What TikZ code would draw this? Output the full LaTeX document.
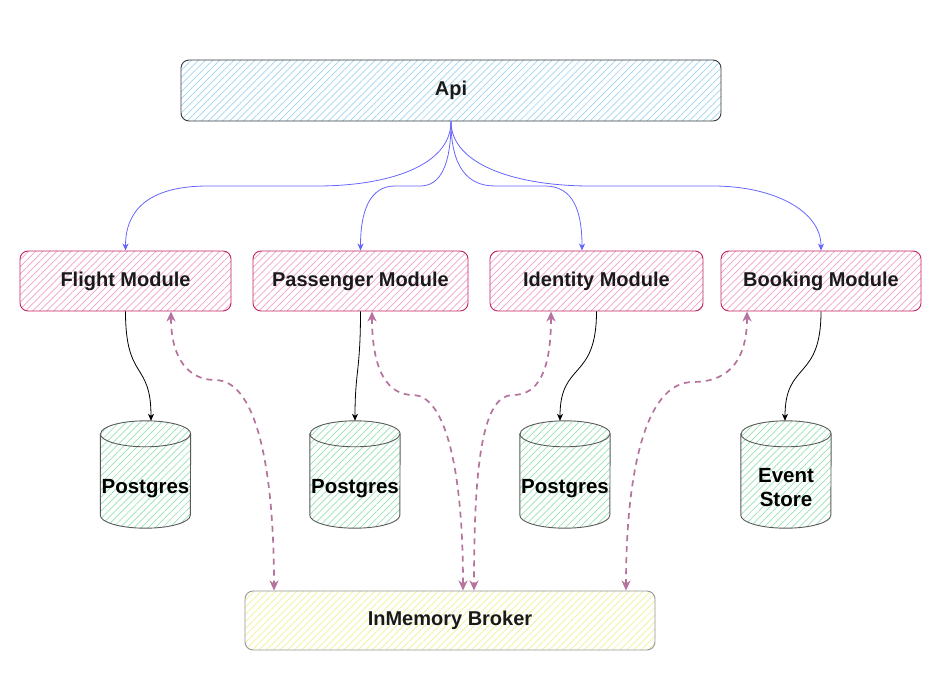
\documentclass[tikz,border=0pt]{standalone}
\usepackage{fontspec}
\setmainfont{Liberation Sans}
\usetikzlibrary{arrows.meta,patterns.meta}

\definecolor{apiline}{RGB}{54,57,61}
\definecolor{apihatch}{RGB}{160,212,240}
\definecolor{modline}{RGB}{194,36,100}
\definecolor{modhatch}{RGB}{242,160,200}
\definecolor{dbline}{RGB}{90,90,90}
\definecolor{dbhatch}{RGB}{150,225,180}
\definecolor{brkline}{RGB}{150,150,150}
\definecolor{brkhatch}{RGB}{240,240,150}
\definecolor{callblue}{RGB}{102,102,255}
\definecolor{busline}{RGB}{181,115,157}
\definecolor{txt}{RGB}{26,26,26}

\tikzset{
  hatch/.style={pattern={Lines[angle=45,distance=5pt,line width=0.7pt]}, pattern color=#1},
  boxbase/.style={rounded corners=8pt, line width=0.9pt, inner sep=0pt,
    font=\fontsize{20}{23}\selectfont\bfseries, text=txt, align=center},
  apibox/.style={boxbase, draw=apiline, hatch=apihatch, minimum width=540pt, minimum height=61pt},
  modbox/.style={boxbase, draw=modline, hatch=modhatch, minimum height=60pt},
  brkbox/.style={boxbase, draw=brkline, hatch=brkhatch, minimum width=410pt, minimum height=59pt},
  dbframe/.style={minimum width=90pt, minimum height=107pt, inner sep=0pt},
  dbtext/.style={font=\fontsize{20.5}{24}\selectfont\bfseries, text=black, align=center, inner sep=0pt},
  cylfill/.style={draw=dbline, line width=0.9pt, hatch=dbhatch},
  cylline/.style={draw=dbline, line width=0.9pt},
  call/.style={draw=callblue, line width=0.8pt, -{Stealth[length=7pt,width=6pt,inset=2pt]}},
  store/.style={draw=black, line width=0.8pt, -{Stealth[length=7pt,width=6pt,inset=2pt]}},
  bus/.style={draw=busline, line width=1.7pt, dash pattern=on 6pt off 5pt,
    {Stealth[length=10pt,width=9pt,inset=3pt]}-{Stealth[length=10pt,width=9pt,inset=3pt]}}
}

% cylinder outline drawn around a rectangular frame node
\newcommand\drawdbcyl[1]{%
  \path[cylfill] ([yshift=-13pt]#1.north west) -- ([yshift=13pt]#1.south west)
    arc[start angle=180,end angle=360,x radius=45pt,y radius=13pt]
    -- ([yshift=-13pt]#1.north east)
    arc[start angle=0,end angle=180,x radius=45pt,y radius=13pt] -- cycle;
  \draw[cylline] ([yshift=-13pt]#1.north west)
    arc[start angle=180,end angle=360,x radius=45pt,y radius=13pt];
}

\begin{document}
\begin{tikzpicture}[x=1pt,y=-1pt]
\useasboundingbox (0,0) rectangle (940,690);

% top-level entry point
\node[apibox] (api) at (451,90.5) {Api};

% modules
\node[modbox, minimum width=211pt] (fl) at (125.5,281) {Flight Module};
\node[modbox, minimum width=215pt] (ps) at (360.5,281) {Passenger Module};
\node[modbox, minimum width=213pt] (id) at (596.5,281) {Identity Module};
\node[modbox, minimum width=200pt] (bk) at (821,281) {Booking Module};

% databases
\node[dbframe] (db1) at (145.5,474.5) {};
\node[dbframe] (db2) at (355,474.5) {};
\node[dbframe] (db3) at (565,474.5) {};
\node[dbframe] (db4) at (786,474.5) {};
\drawdbcyl{db1}
\drawdbcyl{db2}
\drawdbcyl{db3}
\drawdbcyl{db4}
\node[dbtext] (db1t) at (145.5,489) {Postgres};
\node[dbtext] (db2t) at (355,489) {Postgres};
\node[dbtext] (db3t) at (565,489) {Postgres};
\node[dbtext] (db4t) at (786,488) {Event\\Store};

% message broker
\node[brkbox] (brk) at (450,620.5) {InMemory Broker};

% api -> modules
\draw[call] (api.south) .. controls +(0,45) and +(70,0) .. (317,186) -- (208,186)
  .. controls +(-60,0) and +(0,-40) .. (fl.north);
\draw[call] (api.south) .. controls +(0,45) and +(20,0) .. (420,186) -- (395,186)
  .. controls +(-25,0) and +(0,-40) .. (ps.north);
\draw[call] (api.south) .. controls +(0,45) and +(-28,0) .. (495,186) -- (545,186)
  .. controls +(28,0) and +(0,-40) .. ([xshift=-14.5pt]id.north);
\draw[call] (api.south) .. controls +(0,45) and +(-70,0) .. (590,186) -- (713,186)
  .. controls +(60,0) and +(0,-40) .. (bk.north);

% modules -> stores
\draw[store] (fl.south) .. controls +(0,70) and +(0,-60) .. ([xshift=5.5pt]db1.north);
\draw[store] (ps.south) .. controls +(0,60) and +(0,-50) .. (db2.north);
\draw[store] (id.south) .. controls +(0,70) and +(0,-60) .. ([xshift=-5pt]db3.north);
\draw[store] (bk.south) .. controls +(0,70) and +(0,-60) .. ([xshift=-1pt]db4.north);

% modules <-> broker
\draw[bus] ([xshift=45.5pt]fl.south) .. controls +(0,49) and +(-25,0) .. (215,380)
  .. controls +(45,0) and +(0,-108) .. ([xshift=-176pt]brk.north);
\draw[bus] ([xshift=11.5pt]ps.south) .. controls +(0,60) and +(-25,0) .. (413,395)
  .. controls +(30,0) and +(0,-130) .. ([xshift=13pt]brk.north);
\draw[bus] ([xshift=-45.5pt]id.south) .. controls +(0,60) and +(25,0) .. (513,395)
  .. controls +(-30,0) and +(0,-130) .. ([xshift=24pt]brk.north);
\draw[bus] ([xshift=-74pt]bk.south) .. controls +(0,55) and +(30,0) .. (693,382)
  .. controls +(-50,0) and +(0,-110) .. ([xshift=176pt]brk.north);
\end{tikzpicture}
\end{document}
